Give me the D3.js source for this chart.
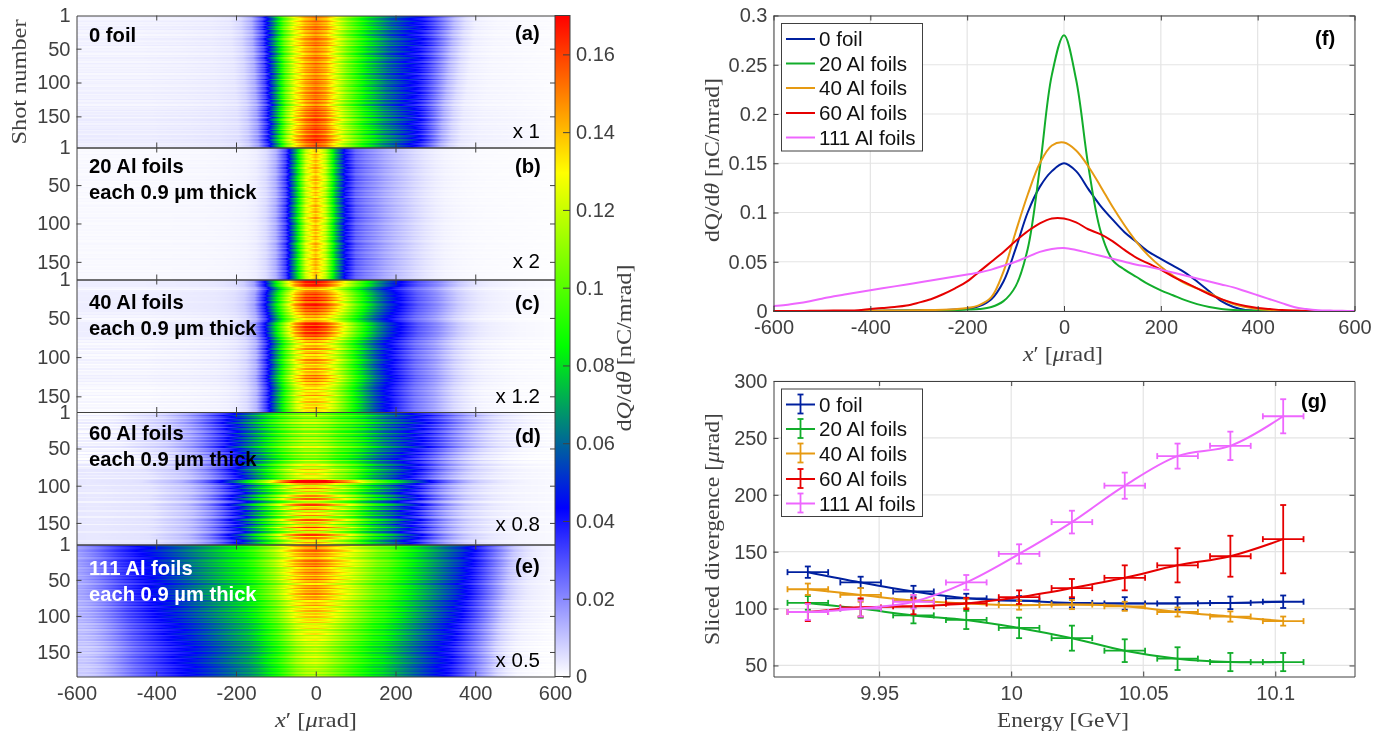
<!DOCTYPE html>
<html>
<head>
<meta charset="utf-8">
<script src="https://cdn.jsdelivr.net/npm/d3@7"></script>
<style>
  html, body { margin: 0; padding: 0; background: #fff; }
  #wrap { position: relative; width: 1387px; height: 731px; overflow: hidden; }
  canvas, svg { position: absolute; left: 0; top: 0; }
  canvas { filter: blur(0.25px); }
  text { font-family: "Liberation Sans", Arial, sans-serif; }
  .tick text { font-size: 20px; fill: #404040; }
  .tick line, .domain { stroke: #404040; }
  .lbl { font-family: "Liberation Serif", serif; font-size: 21px; fill: #404040; }
  .bold { font-weight: bold; font-size: 20.2px; fill: #000; }
</style>
</head>
<body>
<div id="wrap"><canvas id="heat" width="1387" height="731"></canvas><svg id="chart" width="1387" height="731"></svg></div>
<script>
// divergence profile grid, urad
const xGrid = d3.range(-600, 601, 25);

// dQ/dtheta profiles in nC/mrad
const foil0 = [0,0,0,0,0,0,0,0,.0002,.0003,.0004,.0005,.0007,.0009,.001,.0015,
  .002,.005,.012,.03,.063,.1,.126,.142,.15,.142,.124,.107,.093,.08,.07,.06,.053,.046,.039,.03,.02,.01,.004,.001,.0004,
  0,0,0,0,0,0,0,0];
const foil20 = [0,0,0,0,0,0,0,0,.0002,.0002,.0003,.0004,.0005,.0006,.0008,.001,
  .0015,.002,.004,.01,.025,.063,.145,.24,.28,.235,.148,.082,.052,.042,.0345,.027,.021,.016,.011,.007,.004,.002,.001,.0005,.0002,
  0,0,0,0,0,0,0,0];
const foil40 = [0,0,0,0,0,0,0,0,.0003,.0004,.0005,.0006,.0008,.001,.0012,.0018,
  .003,.006,.014,.04,.08,.118,.15,.168,.171,.163,.147,.127,.106,.087,.07,.056,.045,.036,.028,.023,.018,.012,.007,.004,.002,
  .001,.0006,.0003,0,0,0,0,0];
const foil60 = [0,0,0,.0002,.0003,.0004,.0005,.0008,.002,.003,.004,.0055,.0085,.012,.017,.023,
  .03,.04,.05,.06,.071,.081,.089,.094,.094,.09,.083,.078,.071,.062,.054,.048,.042,.035,.029,.023,.017,.012,.008,.005,.003,
  .002,.001,.0005,.0002,0,0,0,0];
const foil111 = [.005,.006,.0078,.01,.0125,.015,.017,.019,.021,.023,.025,.027,.029,.031,.033,.035,
  .037,.039,.042,.046,.05,.055,.06,.063,.064,.062,.059,.056,.053,.05,.047,.045,.042,.039,.036,.033,.03,.027,.024,.02,.016,
  .012,.008,.004,.002,.0008,.0004,.0002,0];

// shot to shot charge, percent of the mean, every second shot
const shotsA = [98,101,96,99,103,97,100,95,102,98,104,96,99,101,94,100,97,103,99,96,
  101,98,105,95,100,97,102,99,94,101,96,103,98,100,95,104,99,97,102,96,
  100,98,103,94,101,99,97,105,96,100,102,98,95,103,101,97,99,104,96,102,
  100,98,106,97,103,101,95,105,99,102,107,98,104,100,106,96,103,108,101,105,
  99,107,102,104,109,100,106,103,98,108,105,102,110,104,107,101,106,103];
const shotsB = [102,98,100,96,104,99,101,97,103,100,95,102,98,105,97,100,103,96,99,102,
  98,104,95,101,99,97,106,100,96,103,98,101,94,105,99,102,97,100,104,96,
  101,99,103,95,100,98,106,97,102,99,96,104,100,98,103,95,101,97,105,99,
  102,96,100,104,98,101,95,103,99,97,102,100,96,105,98,101,99,103,97,100,
  102,96,104,99,101,98,100];
const shotsC = [114,118,110,116,112,100,93,104,108,114,106,116,110,118,104,113,117,108,115,106,
  112,102,108,98,104,94,100,110,116,106,118,110,114,104,116,108,113,100,110,96,
  104,92,100,95,106,90,98,104,92,100,94,106,96,102,90,98,94,104,92,100,
  96,108,100,110,98,106,94,102,96,92,100,90,98,94,104,90,96,92,100,88,
  96,92,98,90,94];
const shotsD = [95,88,102,92,84,98,90,104,86,96,82,100,91,87,105,93,83,99,89,101,
  85,97,92,108,88,94,100,86,103,90,96,84,106,92,98,110,93,101,118,108,
  97,112,100,106,96,115,148,155,122,99,112,128,105,118,98,110,125,102,130,
  108,96,120,135,104,115,128,100,118,108,126,98,112,132,105,120,96,114,138,110,
  124,100,118,136,108,128,115,104,122,112];
const shotsE = [112,118,108,115,120,106,114,110,117,104,113,119,108,116,110,121,105,114,109,118,
  112,103,116,108,120,106,113,100,115,109,118,104,111,107,116,102,112,106,114,100,
  109,104,113,98,108,102,110,96,106,100,108,95,104,99,107,94,102,97,105,92,
  100,95,103,90,98,94,101,88,97,92,100,87,95,91,99,86,94,90,98,85,
  93,89,97,88,92,86,95,90,87,93,85,91];

// beam width drift over a run, top to bottom of each panel
const spreadA = [1.08, 1.05, 1.02, .98, .95];
const spreadB = [1, 1, 1, 1, 1];
const spreadC = [1, 1, 1, 1, 1];
const spreadD = [1.2, 1.15, .95, .93, .93];
const spreadE = [1.02, 1, .98, .97, .98];

// sliced divergence vs energy, panel (g)
const energy = [9.923, 9.943, 9.963, 9.983, 10.003, 10.023, 10.043, 10.063, 10.083, 10.103];
const energyErr = 0.0077;
const div0 = [132, 123, 115, 109, 107, 105, 104.5, 104.5, 105, 106];
const div0Err = [5, 5, 5, 4, 4, 4, 5.5, 5.5, 5.5, 5.5];
const div20 = [105, 100, 94, 90, 83, 74, 63, 56, 53, 53];
const div20Err = [6, 8, 7, 8, 9, 11, 10, 10, 8, 8];
const div40 = [117, 112, 107, 104.5, 103, 103.5, 102, 97, 93, 89];
const div40Err = [5, 6, 5, 4, 4, 4, 4, 4, 4.5, 4];
const div60 = [97, 101, 102, 104.5, 110, 118, 127, 138, 146, 161];
const div60Err = [8, 8, 7, 5, 6, 8, 11, 15, 18, 30];
const div111 = [97, 100, 106, 123, 148, 176, 208, 234, 243, 269];
const div111Err = [7, 7, 6, 6.5, 8.5, 10, 11.5, 11, 12.5, 15];

const seriesNames = ['0 foil', '20 Al foils', '40 Al foils', '60 Al foils', '111 Al foils'];
const seriesColors = ['#00209f', '#12ad2b', '#e69a12', '#e60000', '#ee66ff'];

const colorStops = [0, .0433, .085, .1295, .17];
const colorVals = ['#ffffff', '#0000ff', '#00ff00', '#ffff00', '#ff0000'];

const color = d3.scaleLinear().domain(colorStops).range(colorVals).clamp(true);
const svg = d3.select('#chart');
const fmtPlain = d => String(+d.toFixed(2)); // plain hyphen, d3.format gives a long minus

function styleAxis(g) {
    g.selectAll('.domain').attr('stroke', '#404040').attr('stroke-width', 1);
    g.selectAll('.tick line').attr('stroke', '#404040');
}

// ---- heatmap panels (a)-(e)
const heatLeft = 76.5, heatRight = 555;
const heatX = d3.scaleLinear().domain([-600, 600]).range([heatLeft, heatRight]);
const panels = [
    { profile: foil0, factor: 1, shots: shotsA, spread: spreadA, n: 196, top: 15.5, bottom: 147.5, bg: .0022, tail: 3, trim: 1 },
    { profile: foil20, factor: 2, shots: shotsB, spread: spreadB, n: 173, top: 147.5, bottom: 279.5, bg: .001, tail: 3, trim: 1 },
    { profile: foil40, factor: 1.2, shots: shotsC, spread: spreadC, n: 170, top: 279.5, bottom: 412, bg: .0018, tail: .8, trim: 1 },
    { profile: foil60, factor: .8, shots: shotsD, spread: spreadD, n: 179, top: 412, bottom: 544.5, bg: .0025, tail: 1, trim: .95 },
    { profile: foil111, factor: .5, shots: shotsE, spread: spreadE, n: 184, top: 544.5, bottom: 676.5, bg: .003, tail: .8, trim: .82 }
];

const ctx = document.getElementById('heat').getContext('2d');
const bgFade = d3.scaleLinear().domain([-600, 350, 600]).range([1, .9, .25]);

panels.forEach(p => {
    const y = d3.scaleLinear().domain([1, p.n]).range([p.top, p.bottom]);
    const interp = d3.scaleLinear().domain(xGrid).range(p.profile).clamp(true);
    const pMax = d3.max(p.profile);
    const drift = d3.scaleLinear().domain([0, .25, .5, .75, 1].map(t => 1 + t * (p.n - 1))).range(p.spread);
    const rowOf = d3.scaleQuantize().domain([1, p.n]).range(p.shots);
    const x0 = Math.ceil(heatLeft), x1 = Math.floor(heatRight);
    const y0 = Math.ceil(p.top), y1 = Math.floor(p.bottom);
    const img = ctx.createImageData(x1 - x0 + 1, y1 - y0 + 1);
    for (let py = y0; py <= y1; py++) {
        const shot = y.invert(py + .5);
        const a = rowOf(shot) / 100;
        const w = drift(shot) * Math.pow(a, .2);
        const bgRow = p.bg * Math.min(1.6, Math.max(0, 1 + 8 * (a - 1)));
        for (let px = x0; px <= x1; px++) {
            const xv = heatX.invert(px + .5);
            const base = interp(xv / w);
            const share = base / pMax;
            const gain = 1 + (a - 1) * (share + p.tail * (1 - share));
            const trimmed = p.trim + (1 - p.trim) * share;
            const v = Math.max(0, gain) * trimmed * base / p.factor + bgRow * bgFade(xv);
            const c = d3.rgb(color(v));
            const i = ((py - y0) * img.width + (px - x0)) * 4;
            img.data[i] = c.r; img.data[i + 1] = c.g; img.data[i + 2] = c.b; img.data[i + 3] = 255;
        }
    }
    ctx.putImageData(img, x0, y0);

    // axes on all four sides, ticks point inward
    svg.append('g').attr('transform', `translate(${heatLeft},0)`)
        .call(d3.axisLeft(y).tickValues([1, 50, 100, 150]).tickFormat(d3.format('d')).tickSize(-5).tickSizeOuter(0).tickPadding(6))
        .call(styleAxis)
        .call(g => g.selectAll('.tick').filter(d => d === 1).select('line').remove());
    svg.append('g').attr('transform', `translate(${heatRight},0)`)
        .call(d3.axisRight(y).tickValues([50, 100, 150]).tickFormat('').tickSize(-5).tickSizeOuter(0))
        .call(styleAxis);
    svg.append('g').attr('transform', `translate(0,${p.top})`)
        .call(d3.axisTop(heatX).tickValues(d3.range(-400, 401, 200)).tickFormat('').tickSize(-5).tickSizeOuter(0))
        .call(styleAxis);
    svg.append('g').attr('transform', `translate(0,${p.bottom})`)
        .call(d3.axisBottom(heatX).tickValues(d3.range(-400, 401, 200)).tickFormat('').tickSize(-5).tickSizeOuter(0))
        .call(styleAxis);
});

// x tick labels only under the last panel
svg.append('g').attr('transform', 'translate(0,676.5)')
    .call(d3.axisBottom(heatX).tickValues(d3.range(-600, 601, 200)).tickFormat(fmtPlain).tickSize(0).tickPadding(9))
    .call(g => g.select('.domain').remove());

// ---- colorbar
const cbarY = d3.scaleLinear().domain([0, .17]).range([676.5, 15.5]);
const grad = svg.append('defs').append('linearGradient')
    .attr('id', 'cmap').attr('x1', 0).attr('x2', 0).attr('y1', 1).attr('y2', 0);
colorStops.forEach((s, i) => grad.append('stop').attr('offset', s / .17).attr('stop-color', colorVals[i]));
svg.append('rect').attr('x', 555).attr('y', 15.5).attr('width', 15).attr('height', 661)
    .attr('fill', 'url(#cmap)').attr('stroke', '#404040');
svg.append('g').attr('transform', 'translate(570,0)')
    .call(d3.axisRight(cbarY).tickValues(d3.range(0, .161, .02)).tickFormat(fmtPlain).tickSize(0).tickPadding(6))
    .call(g => g.select('.domain').remove())
    .call(g => g.selectAll('.tick line').attr('x1', -7).attr('x2', 0));

// ---- panel (f)
const plotLeft = 773.5, plotRight = 1354.5;
const fX = d3.scaleLinear().domain([-600, 600]).range([plotLeft, plotRight]);
const fY = d3.scaleLinear().domain([0, .3]).range([311, 15.5]);
const fProfiles = [foil0, foil20, foil40, foil60, foil111];

function grid(xs, ys, xVals, yVals, top, bottom) {
    const g = svg.append('g').attr('stroke', '#e4e4e4').attr('stroke-width', 1.2);
    g.selectAll('.gx').data(xVals).join('line')
        .attr('x1', xs).attr('x2', xs).attr('y1', top).attr('y2', bottom);
    g.selectAll('.gy').data(yVals).join('line')
        .attr('y1', ys).attr('y2', ys).attr('x1', plotLeft).attr('x2', plotRight);
}

function frame(xs, ys, xVals, yVals, top, bottom) {
    svg.append('g').attr('transform', `translate(0,${bottom})`)
        .call(d3.axisBottom(xs).tickValues(xVals).tickFormat(fmtPlain).tickSize(-5).tickSizeOuter(0).tickPadding(9))
        .call(styleAxis);
    svg.append('g').attr('transform', `translate(0,${top})`)
        .call(d3.axisTop(xs).tickValues(xVals).tickFormat('').tickSize(-5).tickSizeOuter(0))
        .call(styleAxis);
    svg.append('g').attr('transform', `translate(${plotLeft},0)`)
        .call(d3.axisLeft(ys).tickValues(yVals).tickFormat(fmtPlain).tickSize(-5).tickSizeOuter(0).tickPadding(6))
        .call(styleAxis);
    svg.append('g').attr('transform', `translate(${plotRight},0)`)
        .call(d3.axisRight(ys).tickValues(yVals).tickFormat('').tickSize(-5).tickSizeOuter(0))
        .call(styleAxis);
}

const fXTicks = d3.range(-600, 601, 200), fYTicks = [0, .05, .1, .15, .2, .25, .3];
grid(fX, fY, fXTicks, fYTicks, 15.5, 311);
const line = d3.line().x((d, i) => fX(xGrid[i])).y(d => fY(d)).curve(d3.curveCatmullRom.alpha(.5));
fProfiles.forEach((prof, k) => {
    svg.append('path').datum(prof).attr('d', line).attr('fill', 'none')
        .attr('stroke', seriesColors[k]).attr('stroke-width', 2);
});
frame(fX, fY, fXTicks, fYTicks, 15.5, 311);

// ---- panel (g)
const gX = d3.scaleLinear().domain([9.91, 10.13]).range([plotLeft, plotRight]);
const gY = d3.scaleLinear().domain([40.3, 300]).range([676.5, 381]);
const gXTicks = [9.95, 10, 10.05, 10.1], gYTicks = [50, 100, 150, 200, 250, 300];
const gSeries = [[div0, div0Err], [div20, div20Err], [div40, div40Err], [div60, div60Err], [div111, div111Err]];
grid(gX, gY, gXTicks, gYTicks, 381, 676.5);

const gLine = d3.line().x((d, i) => gX(energy[i])).y(d => gY(d)).curve(d3.curveCatmullRom.alpha(.5));
gSeries.forEach(([vals, errs], k) => {
    const g = svg.append('g').attr('stroke', seriesColors[k]).attr('fill', 'none');
    g.append('path').datum(vals).attr('d', gLine).attr('stroke-width', 2);
    const bars = g.selectAll('g').data(vals).join('g').attr('stroke-width', 1.8);
    const ex = (d, i) => gX(energy[i]);
    bars.append('line').attr('x1', ex).attr('x2', ex)
        .attr('y1', (d, i) => gY(d - errs[i])).attr('y2', (d, i) => gY(d + errs[i]));
    [-1, 1].forEach(s => bars.append('line')
        .attr('x1', (d, i) => ex(d, i) - 3).attr('x2', (d, i) => ex(d, i) + 3)
        .attr('y1', (d, i) => gY(d + s * errs[i])).attr('y2', (d, i) => gY(d + s * errs[i])));
    bars.append('line')
        .attr('x1', (d, i) => gX(energy[i] - energyErr)).attr('x2', (d, i) => gX(energy[i] + energyErr))
        .attr('y1', d => gY(d)).attr('y2', d => gY(d));
    [-1, 1].forEach(s => bars.append('line')
        .attr('x1', (d, i) => gX(energy[i] + s * energyErr)).attr('x2', (d, i) => gX(energy[i] + s * energyErr))
        .attr('y1', d => gY(d) - 3).attr('y2', d => gY(d) + 3));
});
frame(gX, gY, gXTicks, gYTicks, 381, 676.5);

// ---- legends
function legend(top, height, rows, withBars) {
    svg.append('rect').attr('x', 781.5).attr('y', top).attr('width', 141).attr('height', height)
        .attr('fill', '#fff').attr('stroke', '#404040');
    seriesNames.forEach((name, i) => {
        const ly = rows[i];
        svg.append('line').attr('x1', 786).attr('x2', 815).attr('y1', ly).attr('y2', ly)
            .attr('stroke', seriesColors[i]).attr('stroke-width', 2);
        if (withBars) {
            svg.append('line').attr('x1', 800.5).attr('x2', 800.5).attr('y1', ly - 10).attr('y2', ly + 9)
                .attr('stroke', seriesColors[i]).attr('stroke-width', 1.8);
            [-10, 9].forEach(o => svg.append('line').attr('x1', 797.5).attr('x2', 803.5).attr('y1', ly + o).attr('y2', ly + o)
                .attr('stroke', seriesColors[i]).attr('stroke-width', 1.8));
        }
        svg.append('text').attr('x', 819).attr('y', ly + 7).attr('font-size', 20.6).attr('fill', '#111').text(name);
    });
}
legend(23.5, 127.5, [39, 63.5, 88, 113, 137.5], false);
legend(389, 127.5, [404.5, 429, 453.5, 479, 503.5], true);

// ---- annotations
const boldNotes = [
    ['0 foil', 89, 42, '#000'], ['20 Al foils', 89, 173, '#000'], ['each 0.9 µm thick', 89, 199, '#000'],
    ['40 Al foils', 89, 308.5, '#000'], ['each 0.9 µm thick', 89, 335, '#000'],
    ['60 Al foils', 89, 440, '#000'], ['each 0.9 µm thick', 89, 466, '#000'],
    ['111 Al foils', 89, 575, '#fff'], ['each 0.9 µm thick', 89, 601, '#fff'],
    ['(a)', 515, 40, '#000'], ['(b)', 515, 173, '#000'], ['(c)', 515, 310, '#000'],
    ['(d)', 515, 443, '#000'], ['(e)', 515, 573, '#000'], ['(f)', 1315, 45, '#000'], ['(g)', 1301, 408, '#000']
];
boldNotes.forEach(([t, x, y, c]) => {
    svg.append('text').attr('class', 'bold').attr('x', x).attr('y', y).style('fill', c).text(t);
});
const scaleNotes = [['x 1', 138], ['x 2', 268], ['x 1.2', 403], ['x 0.8', 531], ['x 0.5', 666.5]];
scaleNotes.forEach(([t, y]) => {
    svg.append('text').attr('x', 540).attr('y', y).attr('text-anchor', 'end').attr('font-size', 20.5).attr('fill', '#000').text(t);
});

// ---- axis labels (LaTeX style in the original)
function label(x, y, w, rot, parts) {
    const t = svg.append('text').attr('class', 'lbl').attr('text-anchor', 'middle')
        .attr('transform', `translate(${x},${y}) rotate(${rot})`)
        .attr('textLength', w).attr('lengthAdjust', 'spacingAndGlyphs');
    parts.forEach(([s, it]) => t.append('tspan').style('font-style', it ? 'italic' : 'normal').text(s));
}
label(25.5, 82, 125, -90, [['Shot number', 0]]);
label(316, 727, 82, 0, [['x', 1], ['′ [', 0], ['μ', 1], ['rad]', 0]]);
label(631, 348, 167, -90, [['d', 0], ['Q', 1], ['/d', 0], ['θ', 1], [' [nC/mrad]', 0]]);
label(719, 160, 164, -90, [['dQ/d', 0], ['θ', 1], [' [nC/mrad]', 0]]);
label(1063, 361, 80, 0, [['x', 1], ['′ [', 0], ['μ', 1], ['rad]', 0]]);
label(719, 529, 232, -90, [['Sliced divergence [', 0], ['μ', 1], ['rad]', 0]]);
label(1063, 727, 132, 0, [['Energy [GeV]', 0]]);
</script>
</body>
</html>
